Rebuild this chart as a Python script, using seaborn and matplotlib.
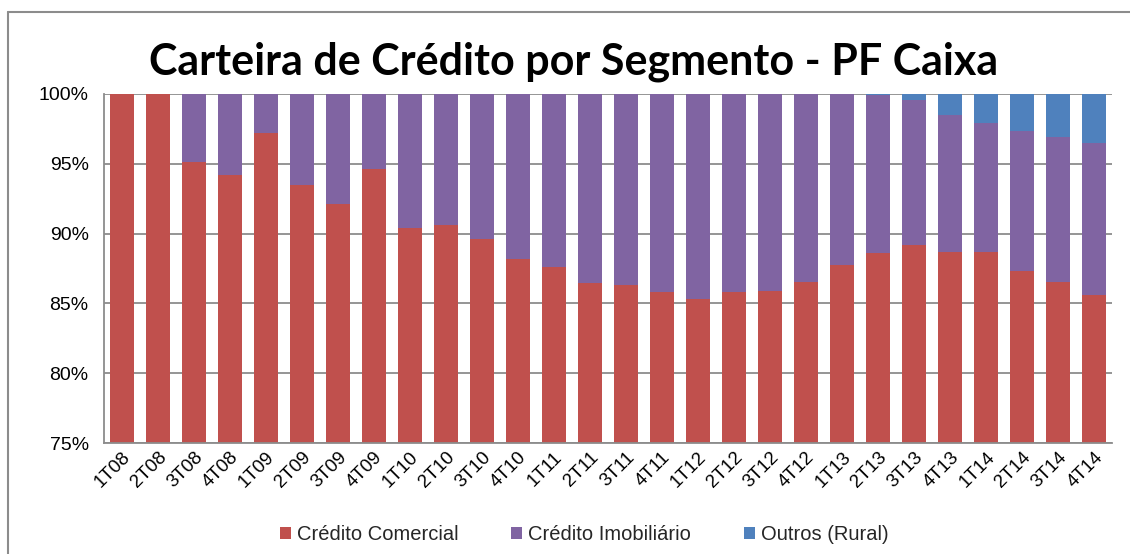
import matplotlib
matplotlib.use("Agg")
import matplotlib.pyplot as plt
import seaborn as sns
import numpy as np
from matplotlib.patches import Patch
from matplotlib.lines import Line2D
from matplotlib.ticker import FuncFormatter, MultipleLocator

periods = ["1T08", "2T08", "3T08", "4T08", "1T09", "2T09", "3T09", "4T09",
           "1T10", "2T10", "3T10", "4T10", "1T11", "2T11", "3T11", "4T11",
           "1T12", "2T12", "3T12", "4T12", "1T13", "2T13", "3T13", "4T13",
           "1T14", "2T14", "3T14", "4T14"]
credito_comercial = [100.0, 100.0, 95.1, 94.2, 97.2, 93.5, 92.1, 94.65,
                     90.4, 90.6, 89.6, 88.2, 87.6, 86.45, 86.3, 85.8,
                     85.35, 85.8, 85.9, 86.5, 87.75, 88.6, 89.2, 88.7,
                     88.7, 87.3, 86.5, 85.6]
credito_imobiliario = [0.0, 0.0, 4.9, 5.8, 2.8, 6.5, 7.9, 5.35,
                       9.6, 9.4, 10.4, 11.8, 12.4, 13.55, 13.7, 14.2,
                       14.65, 14.2, 14.1, 13.5, 12.25, 11.3, 10.4, 9.8,
                       9.2, 10.05, 10.4, 10.9]
outros_rural = [0.0, 0.0, 0.0, 0.0, 0.0, 0.0, 0.0, 0.0,
                0.0, 0.0, 0.0, 0.0, 0.0, 0.0, 0.0, 0.0,
                0.0, 0.0, 0.0, 0.0, 0.0, 0.1, 0.4, 1.5,
                2.1, 2.65, 3.1, 3.5]
series_names = ["Crédito Comercial", "Crédito Imobiliário", "Outros (Rural)"]
colors = ["#C0504D", "#8064A2", "#4F81BD"]

sns.set_theme(style="white")
plt.rcParams["font.family"] = ["Liberation Sans", "DejaVu Sans"]

fig = plt.figure(figsize=(11.3, 5.54), dpi=100)
ax = fig.add_axes([104 / 1130, 1 - 443 / 554, (1112 - 104) / 1130, (443 - 94) / 554])

c1 = np.array(credito_comercial)
c2 = c1 + np.array(credito_imobiliario)
c3 = c2 + np.array(outros_rural)

bw = 0.64
sns.barplot(x=periods, y=c3, color=colors[2], width=bw, ax=ax, saturation=1, zorder=2)
sns.barplot(x=periods, y=c2, color=colors[1], width=bw, ax=ax, saturation=1, zorder=2)
sns.barplot(x=periods, y=c1, color=colors[0], width=bw, ax=ax, saturation=1, zorder=2)
for p in ax.patches:
    p.set_edgecolor("none")

ax.set_ylim(75, 100)
ax.set_xlim(-0.5, len(periods) - 0.5)
ax.yaxis.set_major_locator(MultipleLocator(5))
ax.yaxis.set_major_formatter(FuncFormatter(lambda v, _: f"{v:.0f}%"))
ax.grid(axis="y", color="#8c8c8c", linewidth=1.3, zorder=0)
ax.set_axisbelow(True)
for s in ["top", "right"]:
    ax.spines[s].set_visible(False)
for s in ["left", "bottom"]:
    ax.spines[s].set_color("#8c8c8c")
    ax.spines[s].set_linewidth(1.3)
ax.tick_params(axis="y", length=0, pad=11, labelsize=14, colors="#000000")
ax.tick_params(axis="x", length=0, pad=4, labelsize=13.5, colors="#000000")
for lbl in ax.get_xticklabels():
    lbl.set_rotation(45)
    lbl.set_ha("right")
    lbl.set_rotation_mode("anchor")
ax.set_xlabel("")
ax.set_ylabel("")

fig.text(0.508, 1 - 62 / 554, "Carteira de Crédito por Segmento - PF Caixa",
         ha="center", va="center", fontsize=31, fontweight="bold",
         family=["Lato", "DejaVu Sans"], color="#000000")

handles = [Patch(facecolor=c, edgecolor="none") for c in colors]
fig.legend(handles, series_names, loc="center", bbox_to_anchor=(0.517, 1 - 535 / 554),
           ncol=3, frameon=False, fontsize=14.5, handlelength=0.55, handleheight=0.55,
           handletextpad=0.3, columnspacing=2.6)

fig.add_artist(Line2D([8 / 1130, 8 / 1130], [0, 1 - 12 / 554], color="#8c8c8c", lw=1.5))
fig.add_artist(Line2D([8 / 1130, 1], [1 - 12 / 554, 1 - 12 / 554], color="#8c8c8c", lw=1.5))

fig.savefig("out.png", dpi=100)
